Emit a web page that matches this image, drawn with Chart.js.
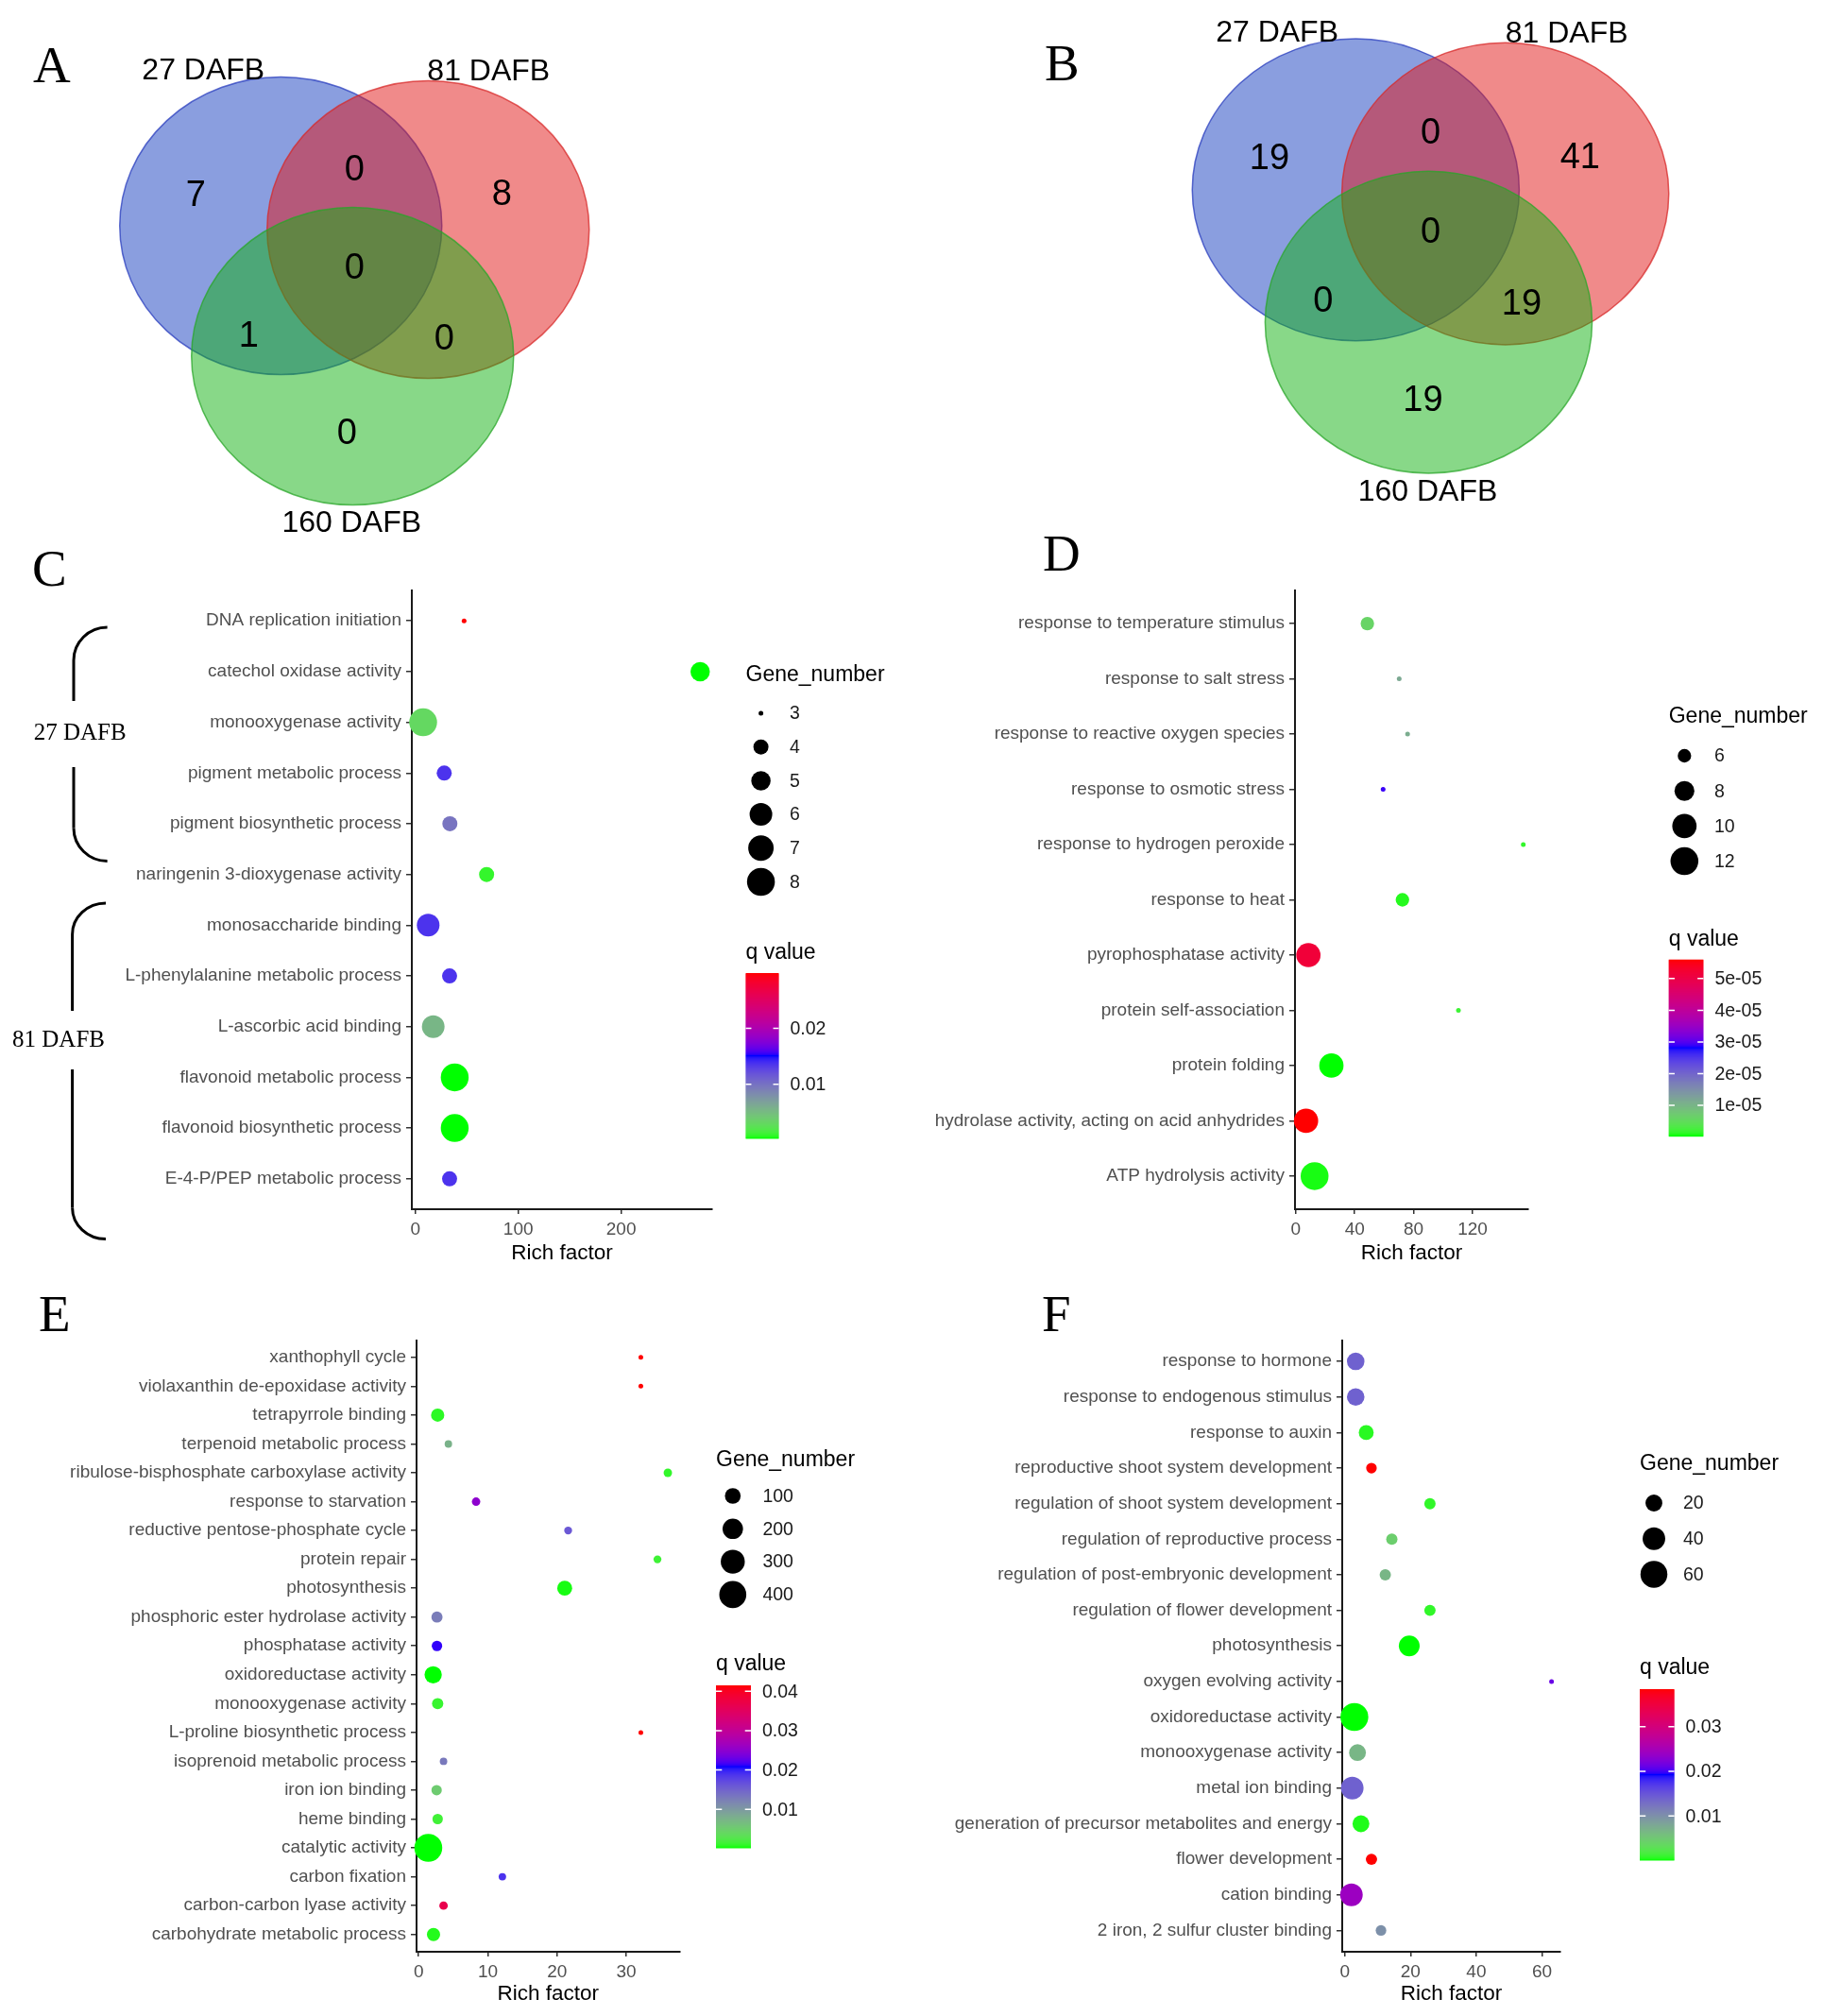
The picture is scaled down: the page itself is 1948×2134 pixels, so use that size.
<!DOCTYPE html>
<html>
<head>
<meta charset="utf-8">
<script src="https://cdn.jsdelivr.net/npm/chart.js@4.4.1/dist/chart.umd.min.js"></script>
<style>
    html, body { margin: 0; padding: 0; background: #fff; }
    #page { position: relative; width: 1948px; height: 2134px; overflow: hidden; background: #fff; }
    canvas { position: absolute; }
</style>
</head>
<body>
<div id="page">
    <canvas id="venn-a"></canvas>
    <canvas id="venn-b"></canvas>
    <canvas id="dot-c"></canvas>
    <canvas id="dot-d"></canvas>
    <canvas id="dot-e"></canvas>
    <canvas id="dot-f"></canvas>
</div>
<script>
// ---- Data ----
// Venn regions: 27 only, 27&81, 81 only, all three, 27&160, 81&160, 160 only
const vennSets = ['27 DAFB', '81 DAFB', '160 DAFB'];
const vennRegions = ['27 only', '27 & 81', '81 only', 'all', '27 & 160', '81 & 160', '160 only'];
const vennCountsA = [7, 0, 8, 0, 1, 0, 0];
const vennCountsB = [19, 0, 41, 0, 0, 19, 19];

// Panel C
const termsC = ['DNA replication initiation', 'catechol oxidase activity', 'monooxygenase activity',
    'pigment metabolic process', 'pigment biosynthetic process', 'naringenin 3-dioxygenase activity',
    'monosaccharide binding', 'L-phenylalanine metabolic process', 'L-ascorbic acid binding',
    'flavonoid metabolic process', 'flavonoid biosynthetic process', 'E-4-P/PEP metabolic process'];
const richC = [47.3, 276.8, 7.5, 28, 33.5, 69.2, 12.4, 33.2, 17.3, 38.2, 38.2, 33.2];
const genesC = [3, 5, 8, 4, 4, 4, 6, 4, 6, 8, 8, 4];
const qC = [0.0299, 0.0003, 0.0030, 0.0136, 0.0098, 0.0009, 0.0136, 0.0136, 0.0053, 0.0003, 0.0003, 0.0136];
const xTicksC = [0, 100, 200];
const sizeBreaksC = [3, 4, 5, 6, 7, 8];
const qBreaksC = [0.01, 0.02];
const qLabelsC = ['0.01', '0.02'];
const groupsC = ['27 DAFB', '81 DAFB'];

// Panel D
const termsD = ['response to temperature stimulus', 'response to salt stress', 'response to reactive oxygen species',
    'response to osmotic stress', 'response to hydrogen peroxide', 'response to heat', 'pyrophosphatase activity',
    'protein self-association', 'protein folding', 'hydrolase activity, acting on acid anhydrides',
    'ATP hydrolysis activity'];
const richD = [48.6, 70.2, 75.9, 59.3, 154.4, 72.4, 8.6, 110.4, 24.2, 7.0, 12.8];
const genesD = [6, 5, 5, 5, 5, 6, 10, 5, 10, 10, 12];
const qD = [6.0e-6, 1.15e-5, 1.1e-5, 2.9e-5, 1.5e-6, 1.0e-6, 5.17e-5, 2.0e-6, 4e-7, 5.6e-5, 7e-7];
const xTicksD = [0, 40, 80, 120];
const sizeBreaksD = [6, 8, 10, 12];
const qBreaksD = [1e-5, 2e-5, 3e-5, 4e-5, 5e-5];
const qLabelsD = ['1e-05', '2e-05', '3e-05', '4e-05', '5e-05'];

// Panel E
const termsE = ['xanthophyll cycle', 'violaxanthin de-epoxidase activity', 'tetrapyrrole binding',
    'terpenoid metabolic process', 'ribulose-bisphosphate carboxylase activity', 'response to starvation',
    'reductive pentose-phosphate cycle', 'protein repair', 'photosynthesis', 'phosphoric ester hydrolase activity',
    'phosphatase activity', 'oxidoreductase activity', 'monooxygenase activity', 'L-proline biosynthetic process',
    'isoprenoid metabolic process', 'iron ion binding', 'heme binding', 'catalytic activity', 'carbon fixation',
    'carbon-carbon lyase activity', 'carbohydrate metabolic process'];
const richE = [32.1, 32.1, 2.75, 4.3, 36.0, 8.3, 21.6, 34.5, 21.1, 2.65, 2.65, 2.1, 2.75, 32.1, 3.6, 2.6, 2.75, 1.4, 12.1, 3.6, 2.15];
const genesE = [3, 3, 61, 9, 14, 14, 11, 11, 86, 36, 29, 129, 37, 3, 9, 29, 29, 430, 9, 14, 61];
const qE = [0.0415, 0.0415, 0.0008, 0.0076, 0.0010, 0.0250, 0.0159, 0.0014, 0.0004, 0.0126, 0.0213, 0.0002,
    0.0012, 0.0415, 0.0130, 0.0052, 0.0015, 0.0002, 0.0188, 0.0366, 0.0006];
const xTicksE = [0, 10, 20, 30];
const sizeBreaksE = [100, 200, 300, 400];
const qBreaksE = [0.01, 0.02, 0.03, 0.04];
const qLabelsE = ['0.01', '0.02', '0.03', '0.04'];

// Panel F
const termsF = ['response to hormone', 'response to endogenous stimulus', 'response to auxin',
    'reproductive shoot system development', 'regulation of shoot system development',
    'regulation of reproductive process', 'regulation of post-embryonic development',
    'regulation of flower development', 'photosynthesis', 'oxygen evolving activity', 'oxidoreductase activity',
    'monooxygenase activity', 'metal ion binding', 'generation of precursor metabolites and energy',
    'flower development', 'cation binding', '2 iron, 2 sulfur cluster binding'];
const richF = [3.3, 3.3, 6.5, 8.1, 25.9, 14.3, 12.3, 25.9, 19.6, 62.9, 2.9, 3.85, 2.25, 4.9, 8.1, 2.0, 11.0];
const genesF = [22, 22, 15, 7, 8, 8, 8, 8, 33, 3, 65, 20, 40, 20, 8, 40, 7];
const qF = [0.0140, 0.0140, 0.0006, 0.0384, 0.0008, 0.0045, 0.0066, 0.0008, 0.0001, 0.0212, 0.0001, 0.0066,
    0.0140, 0.0004, 0.0384, 0.0242, 0.0100];
const xTicksF = [0, 20, 40, 60];
const sizeBreaksF = [20, 40, 60];
const qBreaksF = [0.01, 0.02, 0.03];
const qLabelsF = ['0.01', '0.02', '0.03'];

// ---- Styles ----
const SANS = "'Liberation Sans', Arial, Helvetica, sans-serif";
const SERIF = "'Liberation Serif', 'Times New Roman', serif";
const TICK_TEXT = '#505050';
const DOT_MIN = 5, DOT_MAX = 29.5;
Chart.defaults.font.family = SANS;

// green -> blue -> red, interpolated in CIELAB like ggplot's gradientn
function rgbToLab(r, g, b) {
    const lin = c => { c /= 255; return c <= 0.04045 ? c / 12.92 : Math.pow((c + 0.055) / 1.055, 2.4); };
    const R = lin(r), G = lin(g), B = lin(b);
    const X = (0.4124564 * R + 0.3575761 * G + 0.1804375 * B) / 0.95047;
    const Y = 0.2126729 * R + 0.7151522 * G + 0.0721750 * B;
    const Z = (0.0193339 * R + 0.1191920 * G + 0.9503041 * B) / 1.08883;
    const f = t => t > 0.008856 ? Math.cbrt(t) : 7.787 * t + 16 / 116;
    return [116 * f(Y) - 16, 500 * (f(X) - f(Y)), 200 * (f(Y) - f(Z))];
}
function labToRgb(L, a, b) {
    const fy = (L + 16) / 116, fx = fy + a / 500, fz = fy - b / 200;
    const inv = t => t * t * t > 0.008856 ? t * t * t : (t - 16 / 116) / 7.787;
    const X = inv(fx) * 0.95047, Y = inv(fy), Z = inv(fz) * 1.08883;
    const R = 3.2404542 * X - 1.5371385 * Y - 0.4985314 * Z;
    const G = -0.9692660 * X + 1.8760108 * Y + 0.0415560 * Z;
    const B = 0.0556434 * X - 0.2040259 * Y + 1.0572252 * Z;
    const gam = c => {
        c = c <= 0.0031308 ? 12.92 * c : 1.055 * Math.pow(c, 1 / 2.4) - 0.055;
        return Math.round(Math.min(1, Math.max(0, c)) * 255);
    };
    return [gam(R), gam(G), gam(B)];
}
const RAMP = [rgbToLab(0, 255, 0), rgbToLab(0, 0, 255), rgbToLab(255, 0, 0)];
function rampColour(t) {
    t = Math.min(1, Math.max(0, t));
    const seg = t < 0.5 ? 0 : 1;
    const u = seg === 0 ? t / 0.5 : (t - 0.5) / 0.5;
    const A = RAMP[seg], B = RAMP[seg + 1];
    const c = labToRgb(A[0] + (B[0] - A[0]) * u, A[1] + (B[1] - A[1]) * u, A[2] + (B[2] - A[2]) * u);
    return 'rgb(' + c.join(',') + ')';
}

function place(id, box) {
    const c = document.getElementById(id);
    c.width = box.w;
    c.height = box.h;
    c.style.left = box.left + 'px';
    c.style.top = box.top + 'px';
    c.style.width = box.w + 'px';
    c.style.height = box.h + 'px';
    return c;
}

function drawLetter(ctx, box, letter) {
    ctx.save();
    ctx.fillStyle = '#000';
    ctx.font = '55px ' + SERIF;
    ctx.textAlign = 'left';
    ctx.textBaseline = 'alphabetic';
    ctx.fillText(letter.text, letter.x - box.left, letter.y - box.top);
    ctx.restore();
}

// ---- Venn panels ----
const vennGeom = {
    circles: [[-78, -2], [78, 2], [-2, 136]],
    rx: 170.5, ry: 157.5,
    fills: ['rgba(21,61,191,0.5)', 'rgba(225,21,21,0.5)', 'rgba(17,177,17,0.5)'],
    strokes: ['rgba(40,60,190,0.75)', 'rgba(215,40,40,0.75)', 'rgba(40,165,40,0.75)'],
    regionOffsets: [[-168, -37], [0, -64], [156, -38], [0, 40], [-112, 112], [95, 115], [-8, 215]],
    labelOffsets: [[-160, -157], [142, -156], [-3, 322]]
};

function vennPanel(id, box, counts, letter) {
    const canvas = place(id, box);
    const g = vennGeom, k = box.k;
    new Chart(canvas, {
        type: 'scatter',
        data: {
            datasets: [{
                data: vennRegions.map((r, i) => ({
                    x: box.cx + g.regionOffsets[i][0] * k,
                    y: box.cy + g.regionOffsets[i][1] * k
                })),
                pointRadius: 0
            }]
        },
        options: {
            responsive: false, animation: false, devicePixelRatio: 1, events: [],
            layout: { padding: 0 },
            plugins: { legend: { display: false }, tooltip: { enabled: false } },
            scales: {
                x: { type: 'linear', display: false, min: 0, max: box.w },
                y: { type: 'linear', display: false, reverse: true, min: 0, max: box.h }
            }
        },
        plugins: [{
            id: 'venn',
            beforeDatasetsDraw(chart) {
                const ctx = chart.ctx, xs = chart.scales.x, ys = chart.scales.y;
                g.circles.forEach((c, i) => {
                    const cx = box.cx + c[0] * k, cy = box.cy + c[1] * k;
                    const px = xs.getPixelForValue(cx), py = ys.getPixelForValue(cy);
                    const rx = xs.getPixelForValue(cx + g.rx * k) - px;
                    const ry = ys.getPixelForValue(cy + g.ry * k) - py;
                    ctx.save();
                    ctx.beginPath();
                    ctx.ellipse(px, py, Math.abs(rx), Math.abs(ry), 0, 0, Math.PI * 2);
                    ctx.fillStyle = g.fills[i];
                    ctx.fill();
                    ctx.lineWidth = 1.5;
                    ctx.strokeStyle = g.strokes[i];
                    ctx.stroke();
                    ctx.restore();
                });
            },
            afterDatasetsDraw(chart) {
                const ctx = chart.ctx, xs = chart.scales.x, ys = chart.scales.y;
                const meta = chart.getDatasetMeta(0);
                ctx.save();
                ctx.fillStyle = '#000';
                ctx.textAlign = 'center';
                ctx.textBaseline = 'alphabetic';
                ctx.font = '38px ' + SANS;
                meta.data.forEach((pt, i) => {
                    ctx.fillText(String(counts[i]), pt.x, pt.y + 38 * 0.358);
                });
                ctx.font = '32px ' + SANS;
                vennSets.forEach((s, i) => {
                    const o = g.labelOffsets[i];
                    ctx.fillText(s, xs.getPixelForValue(box.cx + o[0] * k), ys.getPixelForValue(box.cy + o[1] * k));
                });
                ctx.restore();
                drawLetter(ctx, box, letter);
            }
        }]
    });
}

vennPanel('venn-a', { left: 0, top: 0, w: 975, h: 575, cx: 375.25, cy: 241, k: 1.0 }, vennCountsA,
    { text: 'A', x: 35, y: 87 });
vennPanel('venn-b', { left: 975, top: 0, w: 973, h: 548, cx: 539.5, cy: 203, k: 1.015 }, vennCountsB,
    { text: 'B', x: 1106, y: 85 });

// ---- Bubble panels ----
const AXIS_BORDER = { display: true, color: '#1a1a1a', width: 2 };
const AXIS_GRID = {
    display: true, drawOnChartArea: false, drawTicks: true, tickLength: 6,
    color: '#333', tickColor: '#333', lineWidth: 1.5, tickWidth: 1.5
};
const X_AXIS_H = 60;

function drawLegend(ctx, p, diam, qMin, qMax) {
    const L = p.legend, ox = p.box.left, oy = p.box.top;
    ctx.save();
    ctx.textAlign = 'left';
    ctx.textBaseline = 'middle';
    ctx.fillStyle = '#000';
    ctx.font = '23px ' + SANS;
    ctx.fillText('Gene_number', L.x - ox, L.titleY - oy);
    p.sizeBreaks.forEach((n, i) => {
        const y = L.keyY + i * L.keyStep - oy;
        ctx.beginPath();
        ctx.arc(L.keyX - ox, y, diam(n) / 2, 0, Math.PI * 2);
        ctx.fillStyle = '#000';
        ctx.fill();
        ctx.font = '19.5px ' + SANS;
        ctx.fillStyle = '#1a1a1a';
        ctx.fillText(String(n), L.labelX - ox, y + 1);
    });
    ctx.font = '23px ' + SANS;
    ctx.fillStyle = '#000';
    ctx.fillText('q value', L.x - ox, L.qTitleY - oy);
    const bx = L.x - ox, bt = L.barTop - oy, bb = L.barBottom - oy, bw = L.barW, bh = bb - bt;
    for (let k = 0; k < bh; k++) {
        ctx.fillStyle = rampColour(1 - (k + 0.5) / bh);
        ctx.fillRect(bx, bt + k, bw, 1.5);
    }
    p.qBreaks.forEach((q, i) => {
        const y = bb - (q - qMin) / (qMax - qMin) * bh;
        ctx.strokeStyle = '#fff';
        ctx.lineWidth = 1.5;
        ctx.beginPath();
        ctx.moveTo(bx, y); ctx.lineTo(bx + bw * 0.17, y);
        ctx.moveTo(bx + bw * 0.83, y); ctx.lineTo(bx + bw, y);
        ctx.stroke();
        ctx.fillStyle = '#1a1a1a';
        ctx.font = '19.5px ' + SANS;
        ctx.fillText(p.qLabels[i], bx + bw + 12, y + 1);
    });
    ctx.restore();
}

function drawBrackets(ctx, p) {
    const ox = p.box.left, oy = p.box.top;
    ctx.save();
    ctx.strokeStyle = '#000';
    ctx.lineWidth = 3;
    p.brackets.forEach(b => {
        const x = b.x - ox, tip = b.tip - ox, rx = tip - x;
        ctx.beginPath();
        ctx.ellipse(tip, b.top - oy + b.r, rx, b.r, 0, Math.PI, Math.PI * 1.5);
        ctx.stroke();
        ctx.beginPath();
        ctx.moveTo(x, b.top - oy + b.r);
        ctx.lineTo(x, b.gapTop - oy);
        ctx.moveTo(x, b.gapBottom - oy);
        ctx.lineTo(x, b.bottom - oy - b.r);
        ctx.stroke();
        ctx.beginPath();
        ctx.ellipse(tip, b.bottom - oy - b.r, rx, b.r, 0, Math.PI * 0.5, Math.PI);
        ctx.stroke();
    });
    ctx.fillStyle = '#000';
    ctx.font = '25px ' + SERIF;
    ctx.textAlign = 'center';
    ctx.textBaseline = 'alphabetic';
    p.brackets.forEach((b, i) => {
        ctx.fillText(p.groups[i], b.labelX - ox, b.labelY - oy + 8.3);
    });
    ctx.restore();
}

function bubblePanel(id, p) {
    const canvas = place(id, p.box);
    const a = p.area, b = p.box;
    const nMin = Math.min(...p.genes), nMax = Math.max(...p.genes);
    const qMin = Math.min(...p.q), qMax = Math.max(...p.q);
    const diam = n => DOT_MIN + (DOT_MAX - DOT_MIN) * Math.sqrt(Math.max(0, (n - nMin) / (nMax - nMin)));
    const colour = q => rampColour((q - qMin) / (qMax - qMin));
    const titlePad = Math.max(0, a.bottom + X_AXIS_H - 13.5 - p.titleY);
    new Chart(canvas, {
        type: 'bubble',
        data: {
            datasets: [{
                data: p.terms.map((t, i) => ({ x: p.rich[i], y: i, r: diam(p.genes[i]) / 2 })),
                backgroundColor: p.q.map(colour),
                borderWidth: 0, hoverBorderWidth: 0, hoverRadius: 0,
                clip: false
            }]
        },
        options: {
            responsive: false, animation: false, devicePixelRatio: 1, events: [],
            layout: {
                padding: {
                    left: 0,
                    top: a.top - b.top,
                    right: b.left + b.w - a.right,
                    bottom: b.top + b.h - a.bottom - X_AXIS_H
                }
            },
            plugins: { legend: { display: false }, tooltip: { enabled: false } },
            scales: {
                x: {
                    type: 'linear', position: 'bottom', min: p.xMin, max: p.xMax,
                    afterBuildTicks: s => { s.ticks = p.xTicks.map(v => ({ value: v })); },
                    afterFit: s => { s.height = X_AXIS_H; },
                    border: AXIS_BORDER,
                    grid: Object.assign({}, AXIS_GRID, { tickLength: 5 }),
                    ticks: {
                        font: { size: 19 }, color: TICK_TEXT, padding: 5,
                        maxRotation: 0, minRotation: 0, callback: v => String(v)
                    },
                    title: {
                        display: true, text: 'Rich factor', color: '#000',
                        font: { size: 22.5 }, padding: { top: 0, bottom: titlePad }
                    }
                },
                y: {
                    type: 'linear', position: 'left', reverse: true,
                    min: -0.6, max: p.terms.length - 0.4,
                    afterBuildTicks: s => { s.ticks = p.terms.map((t, i) => ({ value: i })); },
                    afterFit: s => { s.width = a.left - b.left; },
                    border: AXIS_BORDER,
                    grid: AXIS_GRID,
                    ticks: {
                        font: { size: 19 }, color: TICK_TEXT, padding: 5, autoSkip: false,
                        callback: v => p.terms[v]
                    }
                }
            }
        },
        plugins: [{
            id: 'extras',
            afterDraw(chart) {
                const ctx = chart.ctx;
                drawLegend(ctx, p, diam, qMin, qMax);
                if (p.brackets) drawBrackets(ctx, p);
                drawLetter(ctx, b, p.letter);
            }
        }]
    });
}

bubblePanel('dot-c', {
    terms: termsC, rich: richC, genes: genesC, q: qC,
    xTicks: xTicksC, xMin: -3.5, xMax: 288.5,
    sizeBreaks: sizeBreaksC, qBreaks: qBreaksC, qLabels: qLabelsC, groups: groupsC,
    box: { left: 0, top: 575, w: 975, h: 795 },
    area: { left: 436, top: 625, right: 754, bottom: 1280 },
    titleY: 1327,
    letter: { text: 'C', x: 34, y: 620 },
    legend: { x: 789.5, titleY: 715, keyX: 805.6, keyY: 755, keyStep: 35.7, labelX: 836,
        qTitleY: 1009, barTop: 1030, barBottom: 1205, barW: 35 },
    brackets: [
        { x: 78, tip: 113.6, top: 664, bottom: 911.5, r: 35, gapTop: 742, gapBottom: 812, labelX: 84.7, labelY: 775 },
        { x: 76.6, tip: 112, top: 956, bottom: 1311.5, r: 33, gapTop: 1070, gapBottom: 1132, labelX: 62, labelY: 1100 }
    ]
});

bubblePanel('dot-d', {
    terms: termsD, rich: richD, genes: genesD, q: qD,
    xTicks: xTicksD, xMin: -0.5, xMax: 157.8,
    sizeBreaks: sizeBreaksD, qBreaks: qBreaksD, qLabels: qLabelsD,
    box: { left: 975, top: 548, w: 973, h: 822 },
    area: { left: 1371, top: 625, right: 1618, bottom: 1280 },
    titleY: 1327,
    letter: { text: 'D', x: 1104, y: 604 },
    legend: { x: 1766.7, titleY: 759, keyX: 1783.3, keyY: 800, keyStep: 37.2, labelX: 1815,
        qTitleY: 995, barTop: 1015.7, barBottom: 1202.3, barW: 36.7 }
});

bubblePanel('dot-e', {
    terms: termsE, rich: richE, genes: genesE, q: qE,
    xTicks: xTicksE, xMin: -0.3, xMax: 37.7,
    sizeBreaks: sizeBreaksE, qBreaks: qBreaksE, qLabels: qLabelsE,
    box: { left: 0, top: 1370, w: 975, h: 764 },
    area: { left: 441, top: 1418.5, right: 719.5, bottom: 2066 },
    titleY: 2111,
    letter: { text: 'E', x: 41, y: 1409 },
    legend: { x: 758, titleY: 1546, keyX: 775.8, keyY: 1583.5, keyStep: 34.8, labelX: 807.4,
        qTitleY: 1762, barTop: 1784, barBottom: 1956, barW: 37 }
});

bubblePanel('dot-f', {
    terms: termsF, rich: richF, genes: genesF, q: qF,
    xTicks: xTicksF, xMin: -0.8, xMax: 65.6,
    sizeBreaks: sizeBreaksF, qBreaks: qBreaksF, qLabels: qLabelsF,
    box: { left: 975, top: 1370, w: 973, h: 764 },
    area: { left: 1421, top: 1418.5, right: 1652, bottom: 2066 },
    titleY: 2111,
    letter: { text: 'F', x: 1103, y: 1409 },
    legend: { x: 1736, titleY: 1550, keyX: 1751, keyY: 1591, keyStep: 37.7, labelX: 1782,
        qTitleY: 1766, barTop: 1788, barBottom: 1969, barW: 36.6 }
});
</script>
</body>
</html>
